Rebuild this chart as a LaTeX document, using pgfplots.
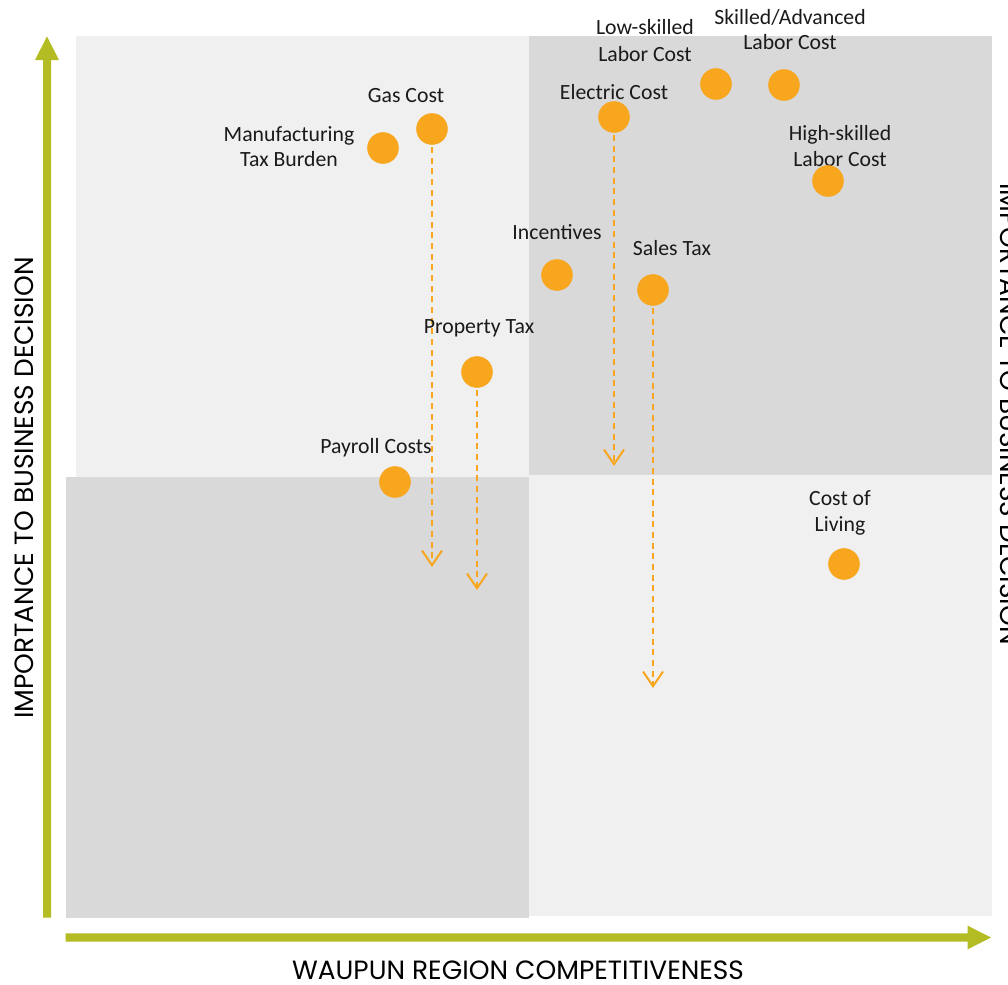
\documentclass[border=0pt]{standalone}
\usepackage{pgfplots}
\pgfplotsset{compat=1.18}
\usetikzlibrary{arrows.meta}
\usepackage{fontspec}
\setmainfont{Carlito}
\newfontfamily\titlefont{Poppins}
\definecolor{dot}{RGB}{248,166,29}
\definecolor{grn}{RGB}{179,188,34}
\definecolor{lightq}{RGB}{240,240,240}
\definecolor{darkq}{RGB}{217,217,217}
\definecolor{txt}{RGB}{26,26,26}
\newcommand{\lab}[3]{\node[anchor=base, inner sep=0pt, text=txt, font=\fontsize{16.3}{19.5}\selectfont] at (#1,#2) {#3};}
\begin{document}
\begin{tikzpicture}
\begin{axis}[name=ax, width=756pt, height=738.75pt, scale only axis,
  xmin=0, xmax=1008, ymin=0, ymax=985, y dir=reverse,
  axis lines=none, ticks=none, clip=true]
% quadrants
\fill[lightq] (76,36) rectangle (529,476.7);
\fill[darkq] (529,36) rectangle (991.7,475);
\fill[darkq] (65.7,476.7) rectangle (529,917.7);
\fill[lightq] (529,475) rectangle (991.7,915.7);
% green axis arrows
\fill[grn] (43,917.7) -- (43,60) -- (35,60) -- (47,36.5) -- (59,60) -- (51,60) -- (51,917.7) -- cycle;
\fill[grn] (65.7,933.3) -- (967.7,933.3) -- (967.7,925.7) -- (991,937.5) -- (967.7,949.3) -- (967.7,941.7) -- (65.7,941.7) -- cycle;
% dashed movement arrows
\addplot[dot, line width=1.5pt, dash pattern=on 4.5pt off 3.5pt, -{Straight Barb[length=11pt,width=15pt,line width=1.5pt]}] coordinates {(432,147) (432,567)};
\addplot[dot, line width=1.5pt, dash pattern=on 4.5pt off 3.5pt, -{Straight Barb[length=11pt,width=15pt,line width=1.5pt]}] coordinates {(614,135) (614,466)};
\addplot[dot, line width=1.5pt, dash pattern=on 4.5pt off 3.5pt, -{Straight Barb[length=11pt,width=15pt,line width=1.5pt]}] coordinates {(477,390) (477,590)};
\addplot[dot, line width=1.5pt, dash pattern=on 4.5pt off 3.5pt, -{Straight Barb[length=11pt,width=15pt,line width=1.5pt]}] coordinates {(653,308) (653,688)};
% factors
\addplot[only marks, mark=*, mark size=11.6pt, mark options={draw=dot, fill=dot}] coordinates {
 (383,148) (432,129) (614,117) (716,84) (784,85) (828,181)
 (557,275) (653,290) (477,372) (395,482) (844,564)
};
% labels
\lab{406}{102}{Gas Cost}
\lab{289}{141}{Manufacturing}
\lab{289}{166}{Tax Burden}
\lab{614}{99}{Electric Cost}
\lab{645}{35}{Low-skilled}
\lab{645}{61}{Labor Cost}
\lab{790}{24}{Skilled/Advanced}
\lab{790}{50}{Labor Cost}
\lab{840}{140}{High-skilled}
\lab{840}{166}{Labor Cost}
\lab{557}{239}{Incentives}
\lab{672}{255}{Sales Tax}
\lab{479}{333}{Property Tax}
\lab{376}{453}{Payroll Costs}
\lab{840}{505}{Cost of}
\lab{840}{531}{Living}
% axis titles
\node[rotate=90, anchor=base, inner sep=0pt, font=\titlefont\fontsize{19.8}{22}\selectfont] at (33,488) {IMPORTANCE TO BUSINESS DECISION};
\node[anchor=base, inner sep=0pt, font=\titlefont\fontsize{19.8}{22}\selectfont] at (518,979) {WAUPUN REGION COMPETITIVENESS};
\node[rotate=-90, anchor=base west, inner sep=0pt, font=\titlefont\fontsize{19.8}{22}\selectfont] at (1000,183) {IMPORTANCE TO BUSINESS DECISION};
\end{axis}
\pgfresetboundingbox
\useasboundingbox (ax.south west) rectangle (ax.north east);
\end{tikzpicture}
\end{document}
